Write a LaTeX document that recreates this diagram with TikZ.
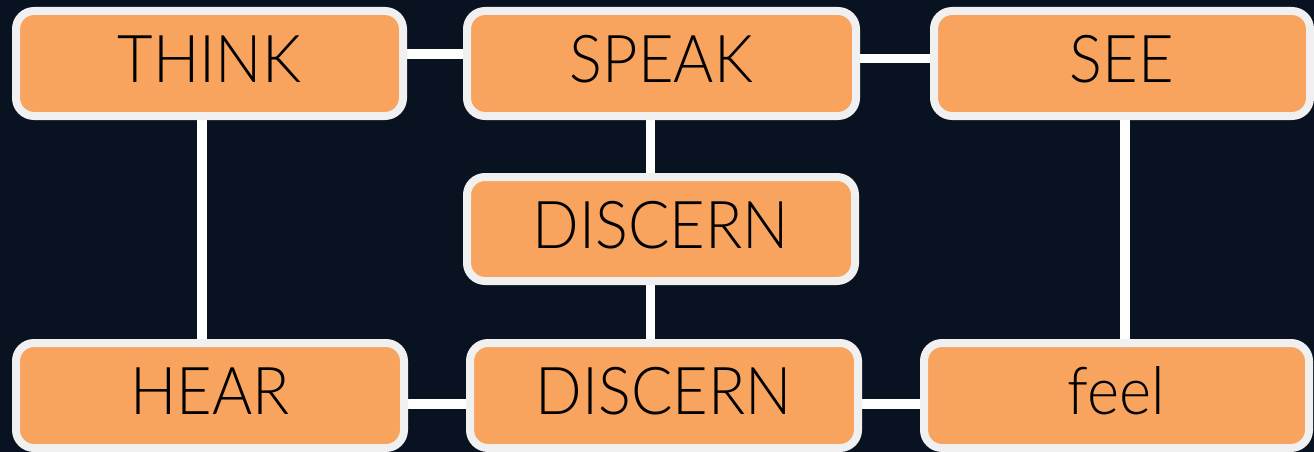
\documentclass[tikz,border=0pt]{standalone}
\usepackage{fontspec}
\setmainfont{Lato}[UprightFont=* Light]
\definecolor{bgnavy}{RGB}{9,18,32}
\definecolor{boxorange}{RGB}{248,163,94}
\definecolor{boxedge}{RGB}{240,240,240}
\pgfdeclarelayer{bglayer}
\pgfdeclarelayer{linelayer}
\pgfsetlayers{bglayer,linelayer,main}
\newcommand{\narrowtext}[1]{\scalebox{0.93}[1]{#1}}
\begin{document}
\begin{tikzpicture}[x=1pt,y=-1pt,
  wordbox/.style={draw=boxedge, line width=8pt, fill=boxorange, rounded corners=18pt,
    inner sep=0pt, minimum height=105pt, text height=47pt, text depth=9pt,
    font=\fontsize{66}{76}\selectfont, text=black},
  conn/.style={draw=white, line width=9.5pt}]
\useasboundingbox (0,0) rectangle (1314,452);
\begin{pgfonlayer}{bglayer}
  \fill[bgnavy] (0,0) rectangle (1314,452);
\end{pgfonlayer}
\node[wordbox, minimum width=387pt] (think) at (209.5,63.5) {\narrowtext{THINK}};
\node[wordbox, minimum width=389pt] (speak) at (661.5,63.5) {\narrowtext{SPEAK}};
\node[wordbox, minimum width=376pt] (see) at (1122,63.5) {\narrowtext{SEE}};
\node[wordbox, minimum width=388pt, minimum height=104pt] (discernA) at (661,229) {\narrowtext{DISCERN}};
\node[wordbox, minimum width=388pt] (hear) at (210,395.5) {\narrowtext{HEAR}};
\node[wordbox, minimum width=388pt] (discernB) at (664,395.5) {\narrowtext{DISCERN}};
\node[wordbox, minimum width=385pt] (feel) at (1116.5,395.5) {\narrowtext{feel}};
\begin{pgfonlayer}{linelayer}
  \draw[conn] ([yshift=9.5pt]think.east) -- ([yshift=9.5pt]think.east -| speak.west);
  \draw[conn] ([yshift=5pt]speak.east) -- ([yshift=5pt]speak.east -| see.west);
  \draw[conn] ([xshift=-7.5pt]think.south) -- ([xshift=-7.5pt]think.south |- hear.north);
  \draw[conn] ([xshift=-11pt]speak.south) -- ([xshift=-11pt]speak.south |- discernA.north);
  \draw[conn] ([xshift=-10.5pt]discernA.south) -- ([xshift=-10.5pt]discernA.south |- discernB.north);
  \draw[conn] ([xshift=3pt]see.south) -- ([xshift=3pt]see.south |- feel.north);
  \draw[conn] ([yshift=-8.5pt]hear.east) -- ([yshift=-8.5pt]hear.east -| discernB.west);
  \draw[conn] ([yshift=-8.5pt]discernB.east) -- ([yshift=-8.5pt]discernB.east -| feel.west);
\end{pgfonlayer}
\end{tikzpicture}
\end{document}
